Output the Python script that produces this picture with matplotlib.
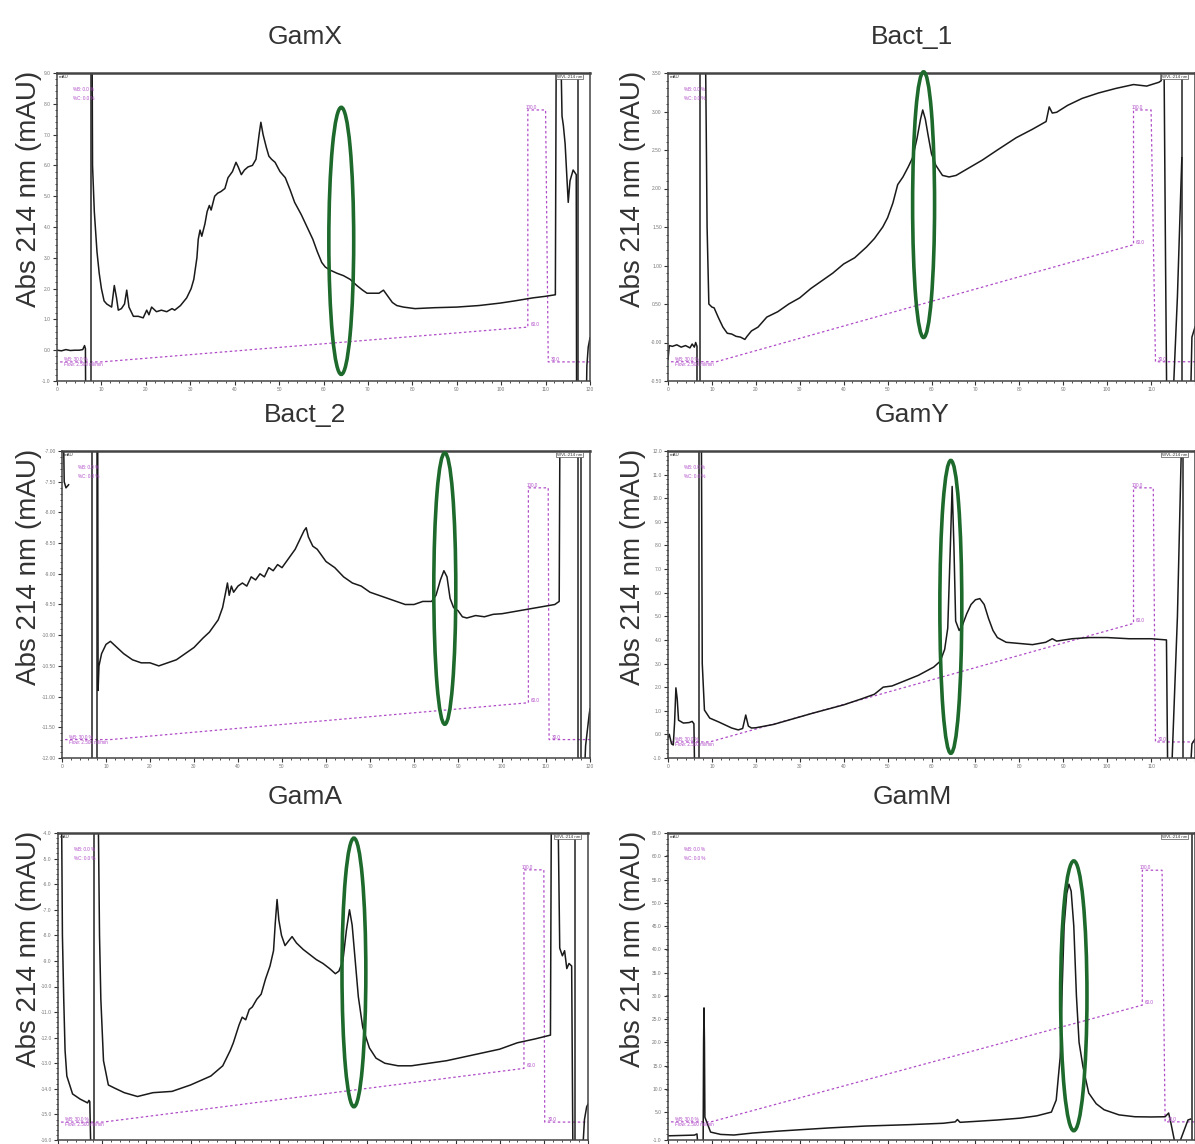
import numpy as np
import matplotlib.pyplot as plt
from matplotlib.patches import Ellipse
from matplotlib.ticker import AutoMinorLocator

nan = np.nan
W, H = 1195, 1144

titles = ["GamX", "Bact_1", "Bact_2", "GamY", "GamA", "GamM"]
x_ticks = list(range(0, 121, 10))

# ---- GamX ----
gamx_x = [0, 1, 2, 3, 4, 5, 5.8, 6.2, 6.4, 6.5, nan,
          7.9, 8.0, 8.4, 9.0, 9.5, 10.0, 10.6, 11.2, 12.3, 12.9, 13.4, 13.8, 14.5, 15.2, 15.7, 16.2,
          17.2, 18.3, 19.4, 20.2, 20.7, 21.3, 22.4, 23.5, 24.7, 25.9, 26.5, 27.8, 29.2, 30.2, 30.8,
          31.5, 31.8, 32.2, 32.6, 33.3, 33.8, 34.3, 34.7, 35.5, 36.2, 36.9, 37.8, 38.5, 39.5, 40.3,
          40.8, 41.5, 42.2, 43.0, 44.0, 44.8, 45.5, 45.9, 46.4, 47.1, 47.7, 48.3, 49.1, 50.2, 51.4,
          52.5, 53.5, 55.0, 56.3, 57.6, 58.6, 59.6, 60.4, 61.5, 63.0, 64.5, 66.0, 67.5, 68.8, 69.8,
          71.0, 72.5, 73.5, 74.5, 75.5, 76.5, 78.0, 80.6, 85, 90, 95, 99.8, 103, 107.2, 110, 112.2,
          112.4, nan,
          113.4, 113.7, 114.0, 114.4, 114.8, 115.1, 115.5, 116.2, 116.9, 117.0, nan,
          119.0, 119.3, 119.6, 120]
gamx_y = [0.0, -0.02, 0.02, -0.01, 0.0, 0.0, 0.02, 0.15, 0.05, -3, nan,
          10, 6.0, 4.5, 3.2, 2.5, 2.0, 1.6, 1.5, 1.4, 2.1, 1.7, 1.3, 1.35, 1.5, 1.95, 1.4,
          1.1, 1.1, 1.05, 1.3, 1.15, 1.4, 1.25, 1.3, 1.25, 1.35, 1.3, 1.45, 1.7, 2.0, 2.3,
          3.0, 3.6, 3.9, 3.7, 4.1, 4.5, 4.7, 4.55, 5.0, 5.1, 5.15, 5.25, 5.6, 5.8, 6.1,
          5.95, 5.7, 5.85, 5.95, 6.0, 6.2, 7.0, 7.4, 7.0, 6.6, 6.3, 6.2, 6.1, 5.8, 5.6,
          5.2, 4.8, 4.4, 4.0, 3.6, 3.2, 2.85, 2.7, 2.6, 2.5, 2.42, 2.3, 2.1, 1.95, 1.85,
          1.85, 1.85, 1.95, 1.75, 1.55, 1.45, 1.4, 1.35, 1.38, 1.4, 1.45, 1.53, 1.6, 1.7, 1.75, 1.8,
          10, nan,
          10, 7.6, 7.3, 6.7, 5.6, 4.8, 5.5, 5.85, 5.7, -3, nan,
          -3, -0.5, 0.1, 0.4]
gamx_grad_x = [0.7, 10, 106, 106, 110, 110.6, 120]
gamx_grad_y = [-0.38, -0.38, 0.75, 7.8, 7.8, -0.38, -0.38]
gamx_marks = [7.6, 117.4]
gamx_ylim = (-1, 9)
gamx_yticks = [-1, 0, 1, 2, 3, 4, 5, 6, 7, 8, 9]
gamx_ylabels = ["-1.0", "0.0", "1.0", "2.0", "3.0", "4.0", "5.0", "6.0", "7.0", "8.0", "9.0"]
gamx_ellipse = (64, 3.55, 5.6, 8.67)

# ---- Bact_1 ----
bact1_x = [0, 0.3, 1, 2, 3, 4, 5, 5.5, 6, 6.3, 6.6, 6.6, nan,
           8.5, 8.7, 8.9, 9.3, 10, 10.5, 11.5, 12.5, 13.5, 14.5, 15.5, 16.5, 17.5, 18, 19, 20.5,
           22.5, 25, 27.5, 30, 32.5, 35, 37.5, 40, 42.5, 45.2, 47, 48.9, 50, 51.2, 52.3, 53.5,
           54.7, 55.7, 56.7, 57.5, 58, 58.6, 59.2, 60, 61, 62.5, 64, 65.6, 68, 71.6, 75, 79.3,
           83, 86.1, 86.8, 87.5, 88.5, 91, 94.3, 98, 102, 106, 109, 111.8, 112.3, 112.5, nan,
           112.9, 113.3, 113.6, nan,
           114.8, 116.0, 117.0, nan,
           118.9, 119.3, 120]
bact1_y = [-0.22, -0.04, -0.05, -0.03, -0.06, -0.04, -0.07, -0.02, -0.06, 0.0, -0.05, -1, nan,
           4, 2.8, 1.5, 0.5, 0.46, 0.45, 0.32, 0.2, 0.12, 0.11, 0.08, 0.07, 0.04, 0.08, 0.15, 0.2,
           0.33, 0.4, 0.5, 0.58, 0.7, 0.8, 0.9, 1.02, 1.1, 1.24, 1.35, 1.5, 1.62, 1.81, 2.05, 2.15,
           2.28, 2.4, 2.65, 2.9, 3.02, 2.9, 2.7, 2.45, 2.3, 2.17, 2.15, 2.17, 2.25, 2.37, 2.5, 2.66,
           2.77, 2.87, 3.06, 2.98, 2.99, 3.08, 3.17, 3.24, 3.3, 3.35, 3.33, 3.38, 3.4, 4.0, nan,
           4.0, 1.0, -1.0, nan,
           -1.0, 0.6, 2.4, nan,
           -1.0, 0.07, 0.2]
bact1_grad_x = [0.7, 11, 106, 106, 110, 111, 120]
bact1_grad_y = [-0.25, -0.25, 1.27, 3.02, 3.02, -0.25, -0.25]
bact1_marks = [7.3, 117.1]
bact1_ylim = (-0.5, 3.5)
bact1_yticks = [-0.5, 0, 0.5, 1, 1.5, 2, 2.5, 3, 3.5]
bact1_ylabels = ["-0.50", "-0.00", "0.50", "1.00", "1.50", "2.00", "2.50", "3.00", "3.50"]
bact1_ellipse = (58.2, 1.79, 5.0, 3.45)

# ---- Bact_2 ----
bact2_x = [0.2, 0.5, 0.9, 1.5, nan,
           8.1, 8.2, 8.4, 9, 10, 11, 12.5, 14, 16, 18, 20, 22, 24, 26, 28, 30, 32, 33.5, 34.5,
           35.5, 36.5, 37.2, 37.6, 38, 38.5, 39, 40, 41, 42, 43, 44, 45, 46, 47, 48, 49, 50, 51,
           52, 53, 54, 55, 55.5, 56, 57, 58, 59, 60, 62, 64, 66, 68, 70, 72, 74, 76, 78, 80, 82,
           84, 85, 86, 86.8, 87.5, 88.2, 89, 90, 91, 92, 94, 96, 98, 100, 104, 108, 112, 113,
           113.2, nan,
           118.6, 119, 119.8, 120]
bact2_y = [-6, -7.5, -7.6, -7.55, nan,
           -6, -10.9, -10.5, -10.3, -10.15, -10.1, -10.2, -10.3, -10.4, -10.45, -10.45, -10.5,
           -10.45, -10.4, -10.3, -10.2, -10.05, -9.95, -9.85, -9.75, -9.55, -9.3, -9.15, -9.35,
           -9.2, -9.3, -9.2, -9.15, -9.2, -9.05, -9.1, -9.0, -9.05, -8.9, -8.95, -8.85, -8.9, -8.8,
           -8.7, -8.6, -8.45, -8.3, -8.25, -8.4, -8.55, -8.6, -8.7, -8.8, -8.9, -9.05, -9.15, -9.2,
           -9.3, -9.35, -9.4, -9.45, -9.5, -9.5, -9.45, -9.45, -9.35, -9.1, -8.95, -9.05, -9.4,
           -9.55, -9.6, -9.7, -9.72, -9.68, -9.7, -9.66, -9.65, -9.6, -9.55, -9.5, -9.45,
           -6, nan,
           -12.5, -11.8, -11.3, -11.2]
bact2_grad_x = [0.7, 11, 106, 106, 110.5, 110.7, 120]
bact2_grad_y = [-11.7, -11.7, -11.1, -7.6, -7.6, -11.7, -11.7]
bact2_marks = [6.8, 8.0, 117.2, 118.0]
bact2_ylim = (-12, -7)
bact2_yticks = [-12, -11.5, -11, -10.5, -10, -9.5, -9, -8.5, -8, -7.5, -7]
bact2_ylabels = ["-12.00", "-11.50", "-11.00", "-10.50", "-10.00", "-9.50", "-9.00", "-8.50",
                 "-8.00", "-7.50", "-7.00"]
bact2_ellipse = (87, -9.24, 5.0, 4.42)

# ---- GamY ----
gamy_x = [0, 0.3, 0.8, 1.2, 1.5, 1.8, 2.1, 2.4, 3.5, 4.8, 5.5, 5.9, 6.1, nan,
          7.6, 7.8, 8.3, 9.5, 11.5, 13, 14.5, 16, 17, 17.7, 18.3, 19, 20, 22, 24, 27, 30, 33, 36,
          40, 44, 47, 49, 51, 53, 55, 57, 59, 60.5, 62, 63, 63.7, 64.3, 64.7, 65.1, 65.5, 66.3,
          67, 68, 69, 70, 71, 72, 73, 74, 75, 77, 80, 83, 86, 87.5, 88.5, 92, 96, 100, 105, 110,
          113.5, 113.8, nan,
          114.6, 116.0, 117.0, nan,
          118.8, 119.3, 120]
gamy_y = [-0.15, 0.0, -0.4, -0.45, 0.5, 1.97, 1.5, 0.6, 0.48, 0.5, 0.55, 0.45, -2, nan,
          13, 3, 1.03, 0.69, 0.53, 0.4, 0.27, 0.19, 0.25, 0.82, 0.35, 0.27, 0.28, 0.35, 0.42,
          0.58, 0.74, 0.9, 1.05, 1.25, 1.5, 1.7, 2.0, 2.05, 2.2, 2.35, 2.5, 2.7, 2.85, 3.1, 3.6,
          4.5, 8.0, 10.5, 8.0, 4.8, 4.4, 4.6, 5.1, 5.5, 5.7, 5.75, 5.5, 4.9, 4.4, 4.1, 3.9, 3.85,
          3.8, 3.9, 4.05, 3.95, 4.05, 4.1, 4.1, 4.05, 4.05, 4.0, -2, nan,
          -2, 5, 13, nan,
          -2, -0.4, -0.2]
gamy_grad_x = [0.7, 9.5, 106, 106, 110.5, 111, 120]
gamy_grad_y = [-0.32, -0.32, 4.7, 10.44, 10.44, -0.32, -0.32]
gamy_marks = [7.0, 117.2]
gamy_ylim = (-1, 12)
gamy_yticks = list(range(-1, 13))
gamy_ylabels = ["%.1f" % v for v in gamy_yticks]
gamy_ellipse = (64.4, 5.4, 5.0, 12.4)

# ---- GamA ----
gama_x = [0.8, 1.0, 1.3, 1.6, 2.0, 3.3, 5, 6.7, 7.0, 7.2, 7.5, nan,
          9.1, 9.4, 9.7, 10.3, 11.4, 12.8, 15, 18, 21.5, 25.8, 30, 34.6, 37.3, 39, 39.7, 41.0,
          41.7, 42.5, 43.3, 44, 45, 46, 47, 48, 48.8, 49.2, 49.6, 50.0, 50.6, 51.4, 52.3, 53, 54,
          55.5, 57, 58.5, 60, 61.5, 62.8, 63.6, 64.5, 65.3, 66.0, 66.6, 67.2, 68, 69, 70.5, 72,
          74, 77, 80, 84, 88, 92, 96, 100, 104, 108, 111.5, 111.7, nan,
          113.2, 113.6, 114.2, 114.7, 115.2, 115.7, 116.3, 116.6, nan,
          118.6, 119.2, 119.7, 120]
gama_y = [-3, -8, -10.5, -12.5, -13.5, -14.2, -14.4, -14.55, -14.45, -14.5, -17, nan,
          -3, -8, -10.5, -12.9, -13.85, -13.97, -14.15, -14.3, -14.15, -14.1, -13.85, -13.5,
          -13.1, -12.5, -12.2, -11.5, -11.2, -11.3, -10.9, -10.8, -10.5, -10.3, -9.7, -9.2, -8.6,
          -7.5, -6.6, -7.4, -8.0, -8.4, -8.2, -8.05, -8.3, -8.55, -8.75, -8.95, -9.1, -9.3, -9.5,
          -9.4, -9.0, -7.8, -7.0, -7.6, -8.8, -10.4, -11.6, -12.4, -12.8, -13.0, -13.1, -13.1,
          -13.0, -12.9, -12.75, -12.6, -12.45, -12.2, -12.05, -11.9, -3, nan,
          -3, -8.5, -8.8, -8.6, -9.3, -9.1, -9.2, -17, nan,
          -17, -15.2, -14.7, -14.6]
gama_grad_x = [0.7, 10.2, 105.5, 105.5, 110, 110.2, 120]
gama_grad_y = [-15.3, -15.3, -13.2, -5.44, -5.44, -15.3, -15.3]
gama_marks = [8.1, 117.0]
gama_ylim = (-16, -4)
gama_yticks = list(range(-16, -3))
gama_ylabels = ["%.1f" % v for v in gama_yticks]
gama_ellipse = (67, -9.45, 5.4, 10.5)

# ---- GamM ----
gamm_x = [0, 2, 4, 6.0, 6.6, 6.8, nan,
          8.0, 8.1, 8.2, 8.3, 8.4, 9.7, 12, 15, 19.3, 25, 30, 36.8, 45, 55, 62.7, 65.4, 65.9,
          66.5, 70, 75, 80.2, 84, 87.3, 88.4, 89.3, 89.7, 90.2, 90.8, 91.3, 91.8, 92.4, 93.0,
          93.6, 94.5, 95.8, 97.5, 99.3, 102.7, 106.3, 110, 113.2, 114.0, 114.5, 115.5, nan,
          116.3, 118.4, 119.0]
gamm_y = [-0.1, -0.05, 0.0, 0.05, 0.3, -2, nan,
          -2, 20, 27.4, 20, 3.9, 0.7, 0.2, 0.07, 0.5, 0.9, 1.2, 1.6, 2.0, 2.3, 2.6, 2.9, 3.4,
          2.8, 3.0, 3.3, 3.7, 4.2, 5.0, 7.6, 16.8, 30, 45, 52, 54, 52.5, 45, 30,
          20, 14.7, 9.1, 6.8, 5.5, 4.4, 4.0, 3.95, 4.0, 4.8, 2.7, -2, nan,
          -2, 3.3, 3.5]
gamm_grad_x = [0.7, 9.8, 108, 108, 112.5, 113.2, 120]
gamm_grad_y = [2.9, 2.9, 28, 57, 57, 2.9, 2.9]
gamm_marks = [119.3]
gamm_ylim = (-1, 65)
gamm_yticks = [-1, 5, 10, 15, 20, 25, 30, 35, 40, 45, 50, 55, 60, 65]
gamm_ylabels = ["%.1f" % v for v in gamm_yticks]
gamm_ellipse = (92.4, 30, 6.0, 58)

panels = [
    (gamx_x, gamx_y, gamx_grad_x, gamx_grad_y, gamx_marks, gamx_ylim, gamx_yticks, gamx_ylabels, gamx_ellipse),
    (bact1_x, bact1_y, bact1_grad_x, bact1_grad_y, bact1_marks, bact1_ylim, bact1_yticks, bact1_ylabels, bact1_ellipse),
    (bact2_x, bact2_y, bact2_grad_x, bact2_grad_y, bact2_marks, bact2_ylim, bact2_yticks, bact2_ylabels, bact2_ellipse),
    (gamy_x, gamy_y, gamy_grad_x, gamy_grad_y, gamy_marks, gamy_ylim, gamy_yticks, gamy_ylabels, gamy_ellipse),
    (gama_x, gama_y, gama_grad_x, gama_grad_y, gama_marks, gama_ylim, gama_yticks, gama_ylabels, gama_ellipse),
    (gamm_x, gamm_y, gamm_grad_x, gamm_grad_y, gamm_marks, gamm_ylim, gamm_yticks, gamm_ylabels, gamm_ellipse),
]

# pixel boxes (left, top, right, bottom)
boxes = [(57, 73, 590, 381), (668, 73, 1195, 381),
         (62, 451, 590, 758), (668, 451, 1195, 758),
         (58, 833, 588, 1140), (668, 833, 1195, 1140)]

plt.rcParams['font.family'] = ['Liberation Sans', 'DejaVu Sans']
fig = plt.figure(figsize=(W / 100, H / 100), dpi=100)

purple = '#b04cc8'
for i, (tx, ty, gx, gy, marks, ylim, yt, ylab, ell) in enumerate(panels):
    l, t, r, b = boxes[i]
    ax = fig.add_axes([l / W, 1 - b / H, (r - l) / W, (b - t) / H])
    ax.set_xlim(0, 120)
    ax.set_ylim(*ylim)
    ax.plot(gx, gy, color=purple, lw=0.9, ls=(0, (2, 2)))
    for m in marks:
        ax.axvline(m, color='#222222', lw=1.1)
    ax.plot(tx, ty, color='#1a1a1a', lw=1.1)
    xc, yc, ew, eh = ell
    ax.add_patch(Ellipse((xc, yc), ew, eh, fill=False, edgecolor='#1d6a2c', lw=2.6,
                         clip_on=False, zorder=5))

    ax.set_xticks(x_ticks)
    xlabs = [str(v) for v in x_ticks]
    if i % 2 == 1:
        xlabs[-1] = ''   # cut off by the image edge in the original
    ax.set_xticklabels(xlabs)
    ax.set_yticks(yt)
    ax.set_yticklabels(ylab)
    ax.xaxis.set_minor_locator(AutoMinorLocator(5))
    ax.yaxis.set_minor_locator(AutoMinorLocator(5))
    ax.tick_params(which='major', labelsize=3.5, labelcolor='#777777', length=3, width=0.8,
                   color='#333333', pad=1.5)
    ax.tick_params(which='minor', length=1.5, width=0.6, color='#333333')
    if i >= 4:
        ax.tick_params(labelbottom=False)
    for s in ax.spines.values():
        s.set_color('#444444')
        s.set_linewidth(1.1)
    ax.spines['top'].set_linewidth(1.8)

    # small annotation texts from the instrument software
    ax.text(0.004, 0.995, 'mAU', transform=ax.transAxes, fontsize=3.2, color='#333333',
            va='top', ha='left')
    ax.text(0.985, 0.995, 'WVL:214 nm', transform=ax.transAxes, fontsize=3.2, color='#333333',
            va='top', ha='right', bbox=dict(fc='white', ec='#555555', lw=0.5, pad=0.6))
    ax.text(0.03, 0.955, '%B: 0.0 %', transform=ax.transAxes, fontsize=3.3, color=purple, va='top')
    ax.text(0.03, 0.925, '%C: 0.0 %', transform=ax.transAxes, fontsize=3.3, color=purple, va='top')
    ax.text(gx[0] + 0.8, gy[0], '%B: 30.0 %', fontsize=3.3, color=purple, va='bottom')
    ax.text(gx[0] + 0.8, gy[0], 'Flow: 2.500 ml/min', fontsize=3.3, color=purple, va='top')
    ax.text(gx[3] - 0.5, gy[3], '100.0', fontsize=3.3, color=purple, va='bottom')
    ax.text(gx[2] + 0.6, gy[2], '60.0', fontsize=3.3, color=purple, va='bottom')
    ax.text(gx[5] + 0.6, gy[5], '30.0', fontsize=3.3, color=purple, va='bottom')

    # title and y label
    cx = 305 if i % 2 == 0 else 912
    fig.text(cx / W, 1 - (t - 36) / H, titles[i], fontsize=19, color='#333333',
             ha='center', va='center')
    lx = 29 if i % 2 == 0 else 633
    fig.text(lx / W, 1 - ((t + b) / 2 - 38) / H, 'Abs 214 nm (mAU)', fontsize=20,
             color='#333333', rotation=90, ha='center', va='center')

fig.savefig('out.png', dpi=100)
